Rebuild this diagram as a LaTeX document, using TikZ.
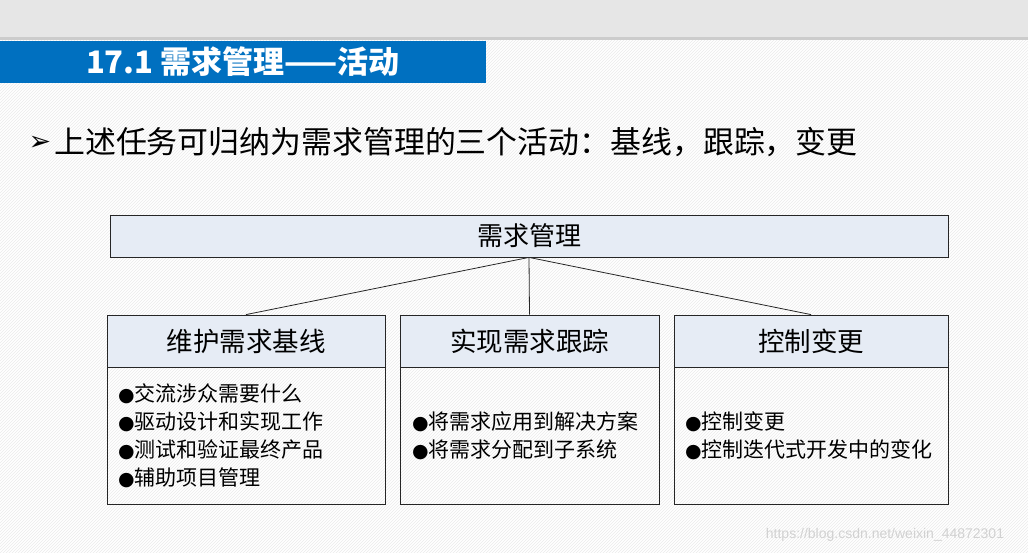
\documentclass[tikz,border=0pt]{standalone}
\usepackage{fontspec}
\setmainfont{Noto Sans CJK SC}
\newfontfamily\dejavu{DejaVu Sans}
\newfontfamily\libsans{Liberation Sans}
\usetikzlibrary{patterns}
\definecolor{bandgray}{HTML}{E6E6E6}
\definecolor{titleblue}{HTML}{0070C0}
\definecolor{hdrblue}{HTML}{E6ECF5}
\tikzset{
  box/.style={draw=black!85, line width=0.8pt, inner sep=0pt},
  hdr/.style={box, fill=hdrblue, minimum height=52pt, font=\fontsize{26.5}{30}\selectfont},
  body/.style={box, minimum height=137pt, align=left, font=\fontsize{21}{28}\selectfont},
  conn/.style={draw=black!85, line width=0.8pt},
}
\newcommand{\bul}{{\dejavu\fontsize{19}{28}\selectfont ●}}
\begin{document}
\begin{tikzpicture}[x=1pt,y=-1pt]
\useasboundingbox (0,0) rectangle (1028,553);
% background
\fill[white] (0,0) rectangle (1028,553);
\fill[pattern=north east lines, pattern color=black!8] (0,40) rectangle (1028,553);
\fill[bandgray] (0,0) rectangle (1028,37);
\fill[black!20] (0,37) rectangle (1028,40);
% title bar
\fill[titleblue] (0,41) rectangle (486,83);
\node[text=white, font=\fontsize{31}{34}\selectfont\bfseries] (title) at (243,62) {17.1 需求管理——活动};
% lead line
\node[font=\dejavu\fontsize{27}{30}\selectfont, inner sep=0pt] (arrow) at (40,143) {➢};
\node[anchor=west, inner sep=0pt, font=\fontsize{30.9}{34}\selectfont] (lead) at (54,142) {上述任务可归纳为需求管理的三个活动：基线，跟踪，变更};
% top box
\node[box, fill=hdrblue, minimum width=838pt, minimum height=42pt, font=\fontsize{26}{28}\selectfont] (top) at (529,236) {需求管理};
% headers
\node[hdr, minimum width=278pt] (lh) at (246,341) {维护需求基线};
\node[hdr, minimum width=259pt] (mh) at (529.5,341) {实现需求跟踪};
\node[hdr, minimum width=274pt] (rh) at (811,341) {控制变更};
% bodies
\node[body, minimum width=278pt, text width=256pt] (lb) at (246,435.5) {\bul{}交流涉众需要什么\\\bul{}驱动设计和实现工作\\\bul{}测试和验证最终产品\\\bul{}辅助项目管理};
\node[body, minimum width=259pt, text width=235pt] (mb) at (529.5,435.5) {\bul{}将需求应用到解决方案\\\bul{}将需求分配到子系统};
\node[body, minimum width=274pt, text width=252pt] (rb) at (811,435.5) {\bul{}控制变更\\\bul{}控制迭代式开发中的变化};
% connectors
\draw[conn] (top.south) -- (lh.north);
\draw[conn] (top.south) -- (mh.north);
\draw[conn] (top.south) -- (rh.north);
% watermark
\node[text=black!18, font=\libsans\fontsize{14}{16}\selectfont] (wm) at (885,535) {https://blog.csdn.net/weixin\_44872301};
\end{tikzpicture}
\end{document}
